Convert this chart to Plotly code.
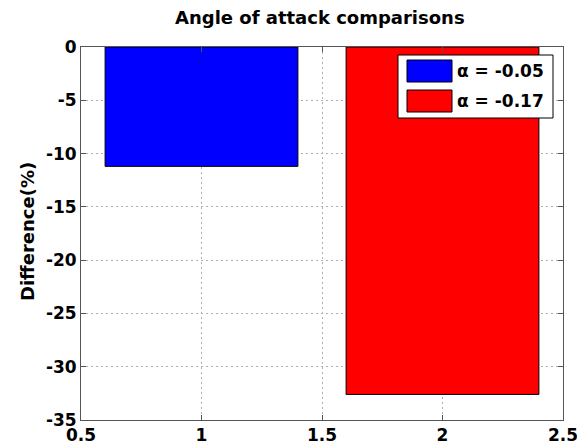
import plotly.graph_objects as go

# ---- data ----
x_pos = [1, 2]
differences = [-11.2, -32.6]
series_names = ["α = -0.05", "α = -0.17"]
bar_colors = ["#0000ff", "#ff0000"]
x_ticks = [0.5, 1, 1.5, 2, 2.5]
x_tick_labels = ["0.5", "1", "1.5", "2", "2.5"]
y_ticks = [0, -5, -10, -15, -20, -25, -30, -35]
y_tick_labels = ["0", "-5", "-10", "-15", "-20", "-25", "-30", "-35"]

W, H = 577, 448
PL, PR, PT, PB = 81, 563, 47, 420   # plot area in window pixels
L, R, T, B = PL, W - PR, PT, H - PB
FONT = "DejaVu Sans"

fig = go.Figure()
for xv, yv, name, col in zip(x_pos, differences, series_names, bar_colors):
    fig.add_trace(go.Bar(
        x=[xv], y=[yv], name=name, width=0.8,
        marker=dict(color=col, line=dict(color="black", width=1)),
        showlegend=False,
    ))

pw, ph = PR - PL, PB - PT
def px(xp):
    return (xp - PL) / pw
def py(yp):
    return (PB - yp) / ph

# manual MATLAB-style legend
shapes = [dict(type="rect", xref="paper", yref="paper",
               x0=px(398), x1=px(553), y0=py(118), y1=py(55),
               fillcolor="white", line=dict(color="black", width=1), layer="above")]
annotations = []
rows = [(60, 82), (90, 112)]
for (top, bot), name, col in zip(rows, series_names, bar_colors):
    shapes.append(dict(type="rect", xref="paper", yref="paper",
                       x0=px(407), x1=px(452), y0=py(bot), y1=py(top),
                       fillcolor=col, line=dict(color="black", width=1), layer="above"))
    annotations.append(dict(xref="paper", yref="paper", x=px(455), y=py((top + bot) / 2),
                            text=name, showarrow=False, xanchor="left", yanchor="middle",
                            font=dict(family=FONT, size=17, color="black", weight="bold")))

annotations.append(dict(xref="paper", yref="paper", x=px(27), y=py(232),
                        text="Difference(%)", showarrow=False, textangle=-90,
                        xanchor="center", yanchor="middle",
                        font=dict(family=FONT, size=18, color="black", weight="bold")))
annotations.append(dict(xref="paper", yref="paper", x=px(320), y=py(18),
                        text="Angle of attack comparisons", showarrow=False,
                        xanchor="center", yanchor="middle",
                        font=dict(family=FONT, size=18, color="black", weight="bold")))

fig.update_layout(
    width=W, height=H,
    margin=dict(l=L, r=R, t=T, b=B, autoexpand=False),
    paper_bgcolor="white", plot_bgcolor="white",
    barmode="overlay",
    shapes=shapes, annotations=annotations,
)
axis_common = dict(
    showgrid=True, gridcolor="#b0b0b0", griddash="2px,3px", gridwidth=1,
    showline=True, linecolor="#555555", linewidth=1, mirror="ticks",
    ticks="inside", ticklen=5, tickcolor="#555555", zeroline=False,
    automargin=False, ticklabeloverflow="allow",
    tickfont=dict(family=FONT, size=17, color="black", weight="bold"),
)
fig.update_xaxes(range=[0.5, 2.5], tickvals=x_ticks, ticktext=x_tick_labels, **axis_common)
fig.update_yaxes(range=[-35, 0], tickvals=y_ticks, ticktext=y_tick_labels, **axis_common)

fig.write_html(
    "out.html",
    config={"displayModeBar": False},
    post_script="document.body.style.margin='0';document.body.style.overflow='hidden';",
)
